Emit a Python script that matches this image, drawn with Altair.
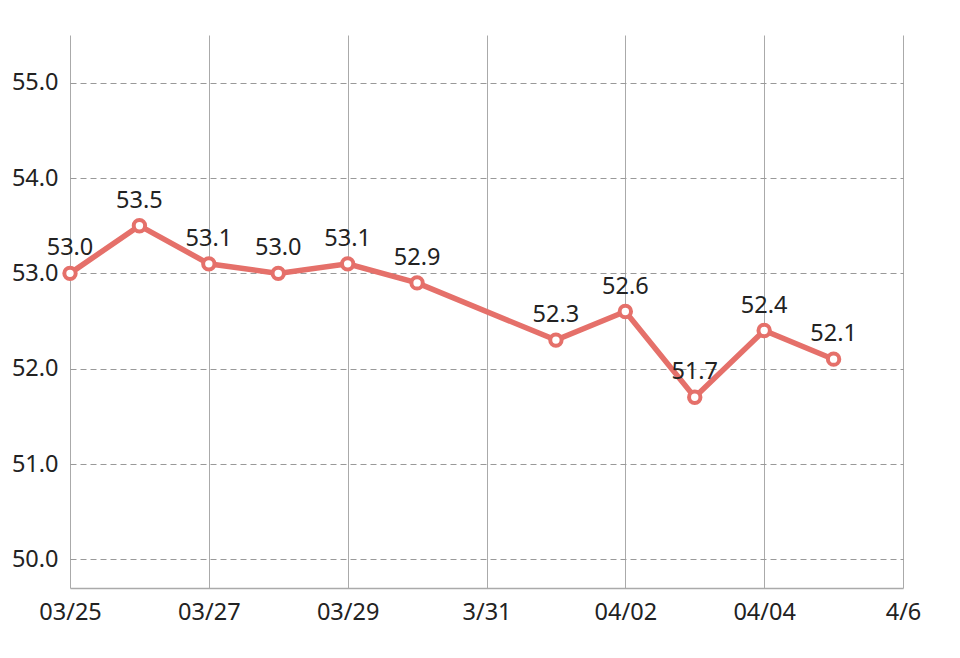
import altair as alt
import pandas as pd

days = [0, 1, 2, 3, 4, 5, 7, 8, 9, 10, 11]
weights = [53.0, 53.5, 53.1, 53.0, 53.1, 52.9, 52.3, 52.6, 51.7, 52.4, 52.1]
tick_days = [0, 2, 4, 6, 8, 10, 12]
tick_labels = ["03/25", "03/27", "03/29", "3/31", "04/02", "04/04", "4/6"]
y_ticks = [50, 51, 52, 53, 54, 55]

df = pd.DataFrame({"day": days, "w": weights})

label_map = "{" + ",".join(f"'{d}':'{l}'" for d, l in zip(tick_days, tick_labels)) + "}"

FONT = "Noto Sans"
COL = "#e5706a"

x = alt.X("day:Q", scale=alt.Scale(domain=[0, 12], nice=False, zero=False),
          axis=alt.Axis(values=tick_days, labelExpr=f"{label_map}[datum.value]",
                        grid=True, gridColor="#aaaaaa", gridWidth=1,
                        domain=True, domainColor="#aaaaaa", domainWidth=1.5,
                        ticks=False, labelPadding=12, labelFontSize=23.5,
                        labelFlush=False, labelOverlap=False,
                        labelColor="#222222", labelFont=FONT, title=None))
y = alt.Y("w:Q", scale=alt.Scale(domain=[49.7, 55.5], nice=False, zero=False),
          axis=alt.Axis(values=y_ticks, format=".1f", grid=True, gridColor="#999999",
                        gridDash=[6, 4], gridWidth=1, domain=False, ticks=False,
                        labelPadding=12, labelFontSize=23.5, labelColor="#222222",
                        labelFlush=False, labelOverlap=False,
                        labelFont=FONT, title=None))

base = alt.Chart(df)
line = base.mark_line(color=COL, strokeWidth=5.5).encode(x=x, y=y)
pts = base.mark_point(filled=True, fill="white", stroke=COL, strokeWidth=4,
                      size=130, opacity=1).encode(x="day:Q", y="w:Q")
txt = base.mark_text(fontSize=23.5, font=FONT, color="#222222", dy=-25,
                     baseline="middle").encode(x="day:Q", y="w:Q",
                                               text=alt.Text("w:Q", format=".1f"))

chart = (line + pts + txt).properties(
    width=833, height=553,
    background="white",
    autosize=alt.AutoSizeParams(type="none"),
    padding={"left": 70, "top": 35, "right": 57, "bottom": 70},
).configure_view(stroke=None)

chart.save("out.html", embed_options={"renderer": "svg", "actions": False})
